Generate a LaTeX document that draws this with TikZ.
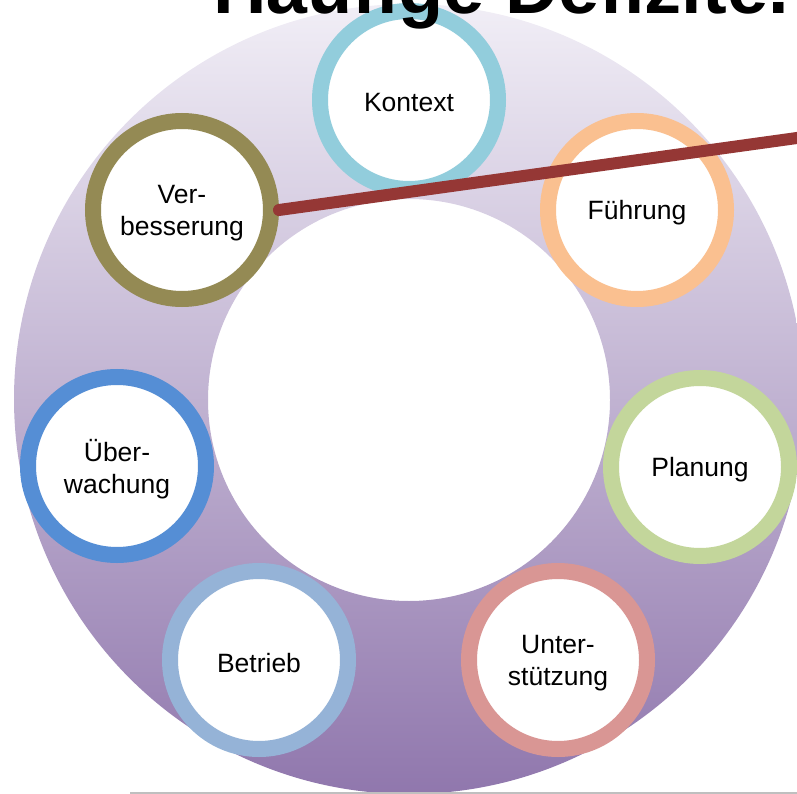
\documentclass[tikz,border=0pt]{standalone}
\usepackage{fontspec}
\setmainfont{Liberation Sans}
\definecolor{cKontext}{HTML}{92CDDC}
\definecolor{cFuehrung}{HTML}{FAC090}
\definecolor{cPlanung}{HTML}{C3D69B}
\definecolor{cUnter}{HTML}{D99694}
\definecolor{cBetrieb}{HTML}{95B3D7}
\definecolor{cUeber}{HTML}{558ED5}
\definecolor{cVerb}{HTML}{948A54}
\definecolor{cRed}{HTML}{953735}
\definecolor{ringTop}{HTML}{F1EEF6}
\definecolor{ringMid}{HTML}{BBABCF}
\definecolor{ringBot}{HTML}{9077AD}
\definecolor{cGrayLine}{HTML}{BFBFBF}
\begin{document}
\begin{tikzpicture}[x=1pt,y=-1pt,
  stage/.style={circle, draw=#1, line width=16pt, fill=white, minimum size=178pt,
    inner sep=0pt},
  stagetext/.style={inner sep=0pt, align=center, font=\fontsize{26.5}{32}\selectfont},
  redline/.style={draw=cRed, line width=12pt, line cap=round},
  rule/.style={draw=cGrayLine, line width=1.5pt}]
\useasboundingbox (0,0) rectangle (797,794);
\clip (0,0) rectangle (797,794);
% ring
\shade[even odd rule, top color=ringTop, middle color=ringMid, bottom color=ringBot]
  (409,399) circle[radius=395] (409,400) circle[radius=201];
% stages
\node[stage=cKontext] (kontext) at (409,100) {};
\node[stage=cFuehrung] (fuehrung) at (637,210) {};
\node[stage=cPlanung] (planung) at (700,467) {};
\node[stage=cUnter] (unter) at (558,660) {};
\node[stage=cBetrieb] (betrieb) at (259,660) {};
\node[stage=cUeber] (ueber) at (117,466) {};
\node[stage=cVerb] (verb) at (182,210) {};
\node[stagetext] (kontextT) at ([yshift=-3pt]kontext.center) {Kontext};
\node[stagetext] (fuehrungT) at ([yshift=-3pt]fuehrung.center) {Führung};
\node[stagetext] (planungT) at ([yshift=-3pt]planung.center) {Planung};
\node[stagetext] (unterT) at ([yshift=-3pt]unter.center) {Unter-\\stützung};
\node[stagetext] (betriebT) at ([yshift=-3pt]betrieb.center) {Betrieb};
\node[stagetext] (ueberT) at ([yshift=-3pt]ueber.center) {Über-\\wachung};
\node[stagetext] (verbT) at ([yshift=-3pt]verb.center) {Ver-\\besserung};
% red line
\coordinate (redend) at (830,133.4);
\draw[redline] (verb.east) -- (redend);
% bottom rule
\coordinate (ruleL) at (130,793);
\coordinate (ruleR) at (797,793);
\draw[rule] (ruleL) -- (ruleR);
% title
\node[anchor=base west, inner sep=0pt, font=\fontsize{74}{80}\selectfont\bfseries] (title) at (213,14) {Häufige Defizite.};
\end{tikzpicture}
\end{document}
